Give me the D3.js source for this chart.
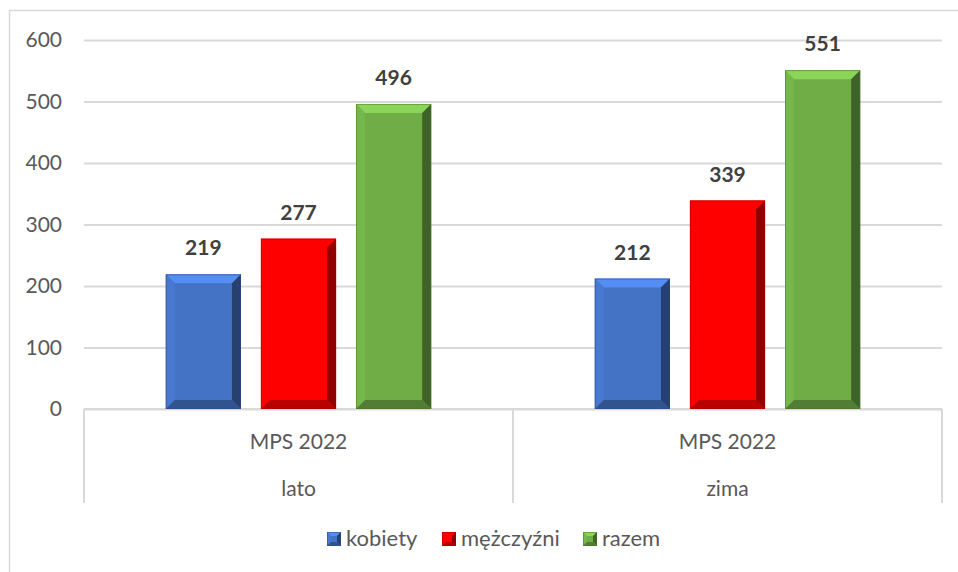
<!DOCTYPE html>
<html>
<head>
<meta charset="utf-8">
<script src="https://cdn.jsdelivr.net/npm/d3@7"></script>
<style>
  body { margin: 0; background: #fff; }
  svg { display: block; font-family: Lato, "Open Sans", sans-serif; }
</style>
</head>
<body>
<div id="d1"></div>
<script>
// dane
const seasons = ["lato", "zima"];
const period = "MPS 2022";
const series = ["kobiety", "mężczyźni", "razem"];
const values = {
    lato: [219, 277, 496],
    zima: [212, 339, 551]
};
const yTicks = [0, 100, 200, 300, 400, 500, 600];
const colors = ["#4472C4", "#FF0000", "#70AD47"];

const width = 958, height = 572;
const margin = { top: 40, right: 16, bottom: 163, left: 84 };

const x0 = d3.scaleBand()
    .domain(seasons)
    .range([margin.left, width - margin.right]);

const x1 = d3.scaleBand()
    .domain(series)
    .range([0, x0.bandwidth()])
    .paddingInner(0.21)
    .paddingOuter(0.86);

const y = d3.scaleLinear()
    .domain([0, 600])
    .range([height - margin.bottom, margin.top]);

const color = d3.scaleOrdinal().domain(series).range(colors);

const svg = d3.select("#d1")
    .append("svg")
    .attr("width", width)
    .attr("height", height)
    .attr("viewBox", [0, 0, width, height]);

// ramka wykresu (ucięta z prawej i z dołu)
svg.append("rect")
    .attr("x", 9.5).attr("y", 10.5)
    .attr("width", 980).attr("height", 600)
    .attr("fill", "none")
    .attr("stroke", "#d9d9d9")
    .attr("stroke-width", 1.5);

// siatka + oś Y
svg.append("g")
    .attr("transform", `translate(${margin.left},0)`)
    .call(d3.axisLeft(y).tickValues(yTicks).tickSize(0).tickPadding(22))
    .call(g => g.select(".domain").remove())
    .call(g => g.selectAll(".tick line").clone()
        .attr("x2", width - margin.right - margin.left)
        .attr("stroke", "#d9d9d9")
        .attr("stroke-width", 2))
    .call(g => g.selectAll(".tick text")
        .attr("fill", "#595959")
        .attr("font-size", 21)
        .attr("font-family", "Lato, sans-serif"));

// oś X z dwoma poziomami etykiet
const xAxisY = y(0);
const xg = svg.append("g");
xg.append("line")
    .attr("x1", margin.left).attr("x2", width - margin.right)
    .attr("y1", xAxisY).attr("y2", xAxisY)
    .attr("stroke", "#d9d9d9").attr("stroke-width", 2);
xg.selectAll("line.sep")
    .data([...seasons.map(s => x0(s)), x0.range()[1]])
    .join("line")
    .attr("class", "sep")
    .attr("x1", d => d).attr("x2", d => d)
    .attr("y1", xAxisY).attr("y2", xAxisY + 94)
    .attr("stroke", "#d9d9d9").attr("stroke-width", 2);
xg.selectAll("text.per")
    .data(seasons)
    .join("text")
    .attr("x", d => x0(d) + x0.bandwidth() / 2)
    .attr("y", xAxisY + 40)
    .attr("text-anchor", "middle")
    .attr("fill", "#595959")
    .attr("font-size", 21)
    .text(period);
xg.selectAll("text.season")
    .data(seasons)
    .join("text")
    .attr("x", d => x0(d) + x0.bandwidth() / 2)
    .attr("y", xAxisY + 87)
    .attr("text-anchor", "middle")
    .attr("fill", "#595959")
    .attr("font-size", 21)
    .text(d => d);

// słupki z efektem fazowania
const bev = 9;
function bevel(g, x, yt, w, h, c, b) {
    const x2 = x + w, y2 = yt + h;
    g.append("rect").attr("x", x).attr("y", yt).attr("width", w).attr("height", h).attr("fill", c);
    const poly = (pts, fill) => g.append("polygon").attr("points", pts.map(p => p.join(",")).join(" ")).attr("fill", fill);
    poly([[x, yt], [x2, yt], [x2 - b, yt + b], [x + b, yt + b]], d3.color(c).brighter(0.6));
    poly([[x, yt], [x + b, yt + b], [x + b, y2 - b], [x, y2]], d3.color(c).brighter(0.15));
    poly([[x2, yt], [x2, y2], [x2 - b, y2 - b], [x2 - b, yt + b]], d3.color(c).darker(1.6));
    poly([[x, y2], [x + b, y2 - b], [x2 - b, y2 - b], [x2, y2]], d3.color(c).darker(0.9));
    g.append("rect").attr("x", x + 0.5).attr("y", yt + 0.5).attr("width", w - 1).attr("height", h - 1)
        .attr("fill", "none").attr("stroke", d3.color(c).darker(1.2)).attr("stroke-opacity", 0.5);
}

const groups = svg.append("g")
    .selectAll("g")
    .data(seasons)
    .join("g")
    .attr("transform", d => `translate(${x0(d)},0)`);

groups.each(function (s) {
    const g = d3.select(this);
    series.forEach((k, i) => {
        const v = values[s][i];
        const bx = x1(k), by = y(v);
        bevel(g.append("g"), bx, by, x1.bandwidth(), y(0) - by, color(k), bev);
        g.append("text")
            .attr("x", bx + x1.bandwidth() / 2)
            .attr("y", by - 19)
            .attr("text-anchor", "middle")
            .attr("font-size", 21)
            .attr("font-weight", "bold")
            .attr("fill", "#404040")
            .text(v);
    });
});

// legenda
const legendX = [327, 442, 583];
const legend = svg.append("g")
    .selectAll("g")
    .data(series)
    .join("g")
    .attr("transform", (d, i) => `translate(${legendX[i]},532)`);
legend.each(function (k) {
    bevel(d3.select(this), 0, 0, 14, 14, color(k), 4);
});
legend.append("text")
    .attr("x", 19)
    .attr("y", 14)
    .attr("fill", "#595959")
    .attr("font-size", 22)
    .text(d => d);
</script>
</body>
</html>
